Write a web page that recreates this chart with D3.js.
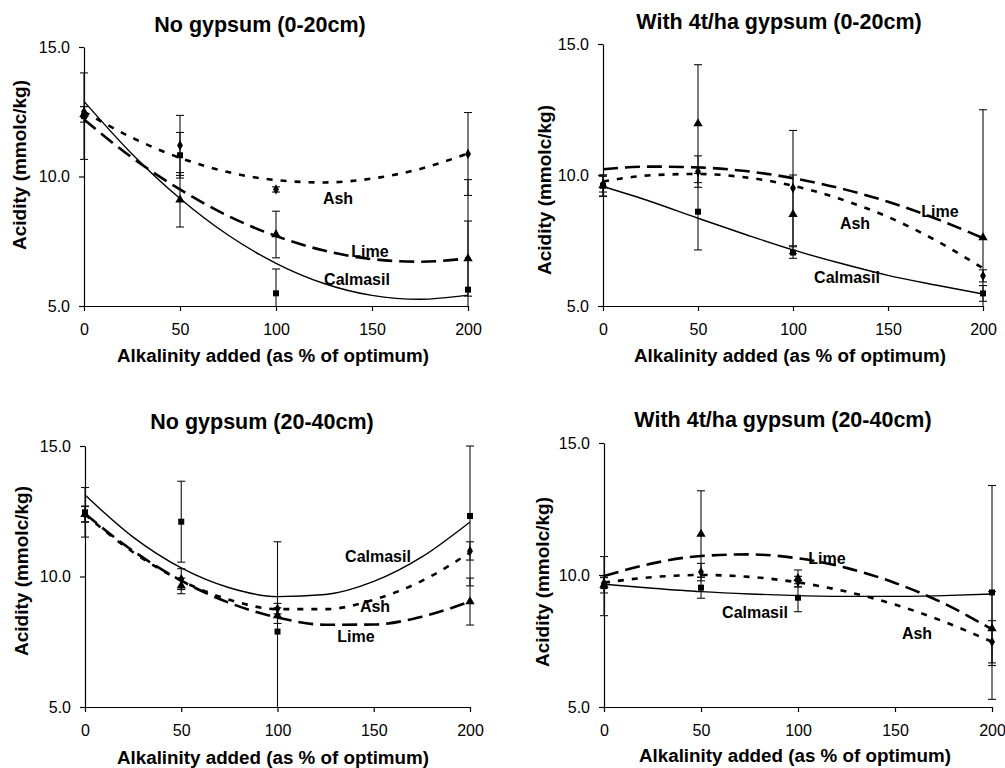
<!DOCTYPE html>
<html>
<head>
<meta charset="utf-8">
<script src="https://cdn.jsdelivr.net/npm/d3@7"></script>
<style>
  html, body { margin: 0; padding: 0; background: #fff; }
  svg { display: block; font-family: "Liberation Sans", Arial, sans-serif; }
</style>
</head>
<body>
<svg id="chart" width="1005" height="768"></svg>
<script>
// ---------- data ----------
const xLevels = [0, 50, 100, 200];
const fitLevels = [0, 25, 50, 75, 100, 125, 150, 175, 200];
const xTicks = [0, 50, 100, 150, 200];
const yTicks = [5, 10, 15];
const seriesNames = ["Ash", "Lime", "Calmasil"];
const panelTitles = ["No gypsum (0-20cm)", "With 4t/ha gypsum (0-20cm)", "No gypsum (20-40cm)", "With 4t/ha gypsum (20-40cm)"];
const xTitle = "Alkalinity added (as % of optimum)";
const yTitle = "Acidity (mmolc/kg)";

// Panel 1: No gypsum (0-20cm)
const p1AshMean = [12.5, 11.2, 9.5, 10.87];
const p1AshErr  = [0.2, 1.16, 0.1, 1.6];
const p1LimeMean = [12.4, 9.1, 7.76, 6.83];
const p1LimeErr  = [0.3, 1.05, 0.9, 1.45];
const p1CalmMean = [12.33, 10.82, 5.49, 5.63];
const p1CalmErr  = [1.67, 0.88, 0.94, 4.25];
const p1AshFit  = [12.5, 11.5, 10.72, 10.17, 9.86, 9.77, 9.92, 10.29, 10.89];
const p1LimeFit = [12.2, 10.73, 9.5, 8.48, 7.7, 7.14, 6.81, 6.71, 6.84];
const p1CalmFit = [12.9, 10.87, 9.15, 7.74, 6.65, 5.87, 5.41, 5.26, 5.42];

// Panel 2: With 4t/ha gypsum (0-20cm)
const p2AshMean = [9.65, 10.13, 9.5, 6.15];
const p2AshErr  = [0.3, 0.6, 2.2, 0.23];
const p2LimeMean = [9.6, 11.96, 8.5, 7.61];
const p2LimeErr  = [0.4, 2.25, 1.5, 4.88];
const p2CalmMean = [9.59, 8.6, 7.04, 5.48];
const p2CalmErr  = [0.41, 1.46, 0.22, 0.3];
const p2AshFit  = [9.75, 9.99, 10.04, 9.91, 9.59, 9.08, 8.4, 7.51, 6.44];
const p2LimeFit = [10.22, 10.32, 10.29, 10.15, 9.88, 9.49, 8.98, 8.34, 7.59];
const p2CalmFit = [9.56, 8.99, 8.35, 7.73, 7.14, 6.63, 6.17, 5.8, 5.46];

// Panel 3: No gypsum (20-40cm)
const p3AshMean = [12.4, 9.9, 8.77, 10.98];
const p3AshErr  = [0.3, 0.4, 0.2, 0.35];
const p3LimeMean = [12.38, 9.64, 8.5, 9.04];
const p3LimeErr  = [0.3, 0.3, 0.3, 0.9];
const p3CalmMean = [12.46, 12.1, 7.89, 12.32];
const p3CalmErr  = [0.95, 1.55, 3.44, 2.68];
const p3AshFit  = [12.38, 10.93, 9.84, 9.11, 8.75, 8.75, 9.11, 9.83, 10.92];
const p3LimeFit = [12.4, 10.98, 9.84, 8.99, 8.43, 8.15, 8.16, 8.46, 9.04];
const p3CalmFit = [13.12, 11.51, 10.33, 9.57, 9.23, 9.31, 9.81, 10.75, 12.09];

// Panel 4: With 4t/ha gypsum (20-40cm)
const p4AshMean = [9.7, 10.11, 9.75, 7.47];
const p4AshErr  = [0.2, 0.33, 0.2, 0.8];
const p4LimeMean = [9.62, 11.55, 9.87, 7.97];
const p4LimeErr  = [0.3, 1.64, 0.32, 1.4];
const p4CalmMean = [9.58, 9.52, 9.14, 9.34];
const p4CalmErr  = [1.12, 0.4, 0.53, 4.05];
const p4AshFit  = [9.71, 9.92, 10.0, 9.93, 9.72, 9.37, 8.88, 8.24, 7.47];
const p4LimeFit = [9.96, 10.44, 10.72, 10.78, 10.63, 10.27, 9.7, 8.93, 7.94];
const p4CalmFit = [9.65, 9.5, 9.37, 9.28, 9.22, 9.19, 9.19, 9.22, 9.28];

// ---------- layout / style ----------
const panels = [
  { title: panelTitles[0], L: 84, R: 468, T: 47, B: 306, titleX: 260, titleY: 32, xtX: 273, xtY: 362, ytX: 26, ytY: 165,
    data: [[p1AshMean, p1AshErr, p1AshFit], [p1LimeMean, p1LimeErr, p1LimeFit], [p1CalmMean, p1CalmErr, p1CalmFit]],
    labels: [[338, 198], [370, 251], [357, 279]] },
  { title: panelTitles[1], L: 603, R: 983, T: 44, B: 306, titleX: 779, titleY: 29, xtX: 790, xtY: 362, ytX: 551, ytY: 190,
    data: [[p2AshMean, p2AshErr, p2AshFit], [p2LimeMean, p2LimeErr, p2LimeFit], [p2CalmMean, p2CalmErr, p2CalmFit]],
    labels: [[855, 223], [940, 211], [847, 277]] },
  { title: panelTitles[2], L: 85, R: 470, T: 446, B: 707, titleX: 262, titleY: 429, xtX: 273, xtY: 764, ytX: 28, ytY: 571,
    data: [[p3AshMean, p3AshErr, p3AshFit], [p3LimeMean, p3LimeErr, p3LimeFit], [p3CalmMean, p3CalmErr, p3CalmFit]],
    labels: [[375, 606], [356, 636], [378, 556]] },
  { title: panelTitles[3], L: 604, R: 992, T: 443, B: 707, titleX: 783, titleY: 427, xtX: 795, xtY: 762, ytX: 549, ytY: 582,
    data: [[p4AshMean, p4AshErr, p4AshFit], [p4LimeMean, p4LimeErr, p4LimeFit], [p4CalmMean, p4CalmErr, p4CalmFit]],
    labels: [[917, 633], [827, 558], [755, 612]] }
];

const lineStyles = [
  { dash: "6,8", width: 2.6 },   // Ash
  { dash: "15,7", width: 2.6 },  // Lime
  { dash: null, width: 1.4 }     // Calmasil
];
const markerSymbols = [d3.symbolDiamond, d3.symbolTriangle, d3.symbolSquare];
const markerSizes = [30, 38, 36];

const svg = d3.select("#chart");

panels.forEach(p => {
  const x = d3.scaleLinear().domain([0, 200]).range([p.L, p.R]);
  const y = d3.scaleLinear().domain([5, 15]).range([p.B, p.T]);
  const g = svg.append("g");

  // axes
  const yAxis = d3.axisLeft(y).tickValues(yTicks).tickFormat(d3.format(".1f")).tickSizeInner(5).tickSizeOuter(0).tickPadding(9);
  const xAxis = d3.axisBottom(x).tickValues(xTicks).tickFormat(d3.format("d")).tickSizeInner(5).tickSizeOuter(0).tickPadding(13);
  const ya = g.append("g").attr("transform", `translate(${p.L},0)`).call(yAxis);
  const xa = g.append("g").attr("transform", `translate(0,${p.B})`).call(xAxis);
  [ya, xa].forEach(a => {
    a.select(".domain").attr("stroke", "#000").attr("stroke-width", 1.2);
    a.selectAll(".tick line").attr("stroke", "#000").attr("stroke-width", 1.2);
    a.selectAll(".tick text").attr("fill", "#000").style("font-size", "16px").style("font-family", '"Liberation Sans", Arial, sans-serif');
  });

  // titles
  g.append("text").attr("x", p.titleX).attr("y", p.titleY).attr("text-anchor", "middle")
    .style("font-size", "21.5px").style("font-weight", "bold").text(p.title);
  g.append("text").attr("x", p.xtX).attr("y", p.xtY).attr("text-anchor", "middle")
    .style("font-size", "18.8px").style("font-weight", "bold").text(xTitle);
  g.append("text").attr("transform", `translate(${p.ytX},${p.ytY}) rotate(-90)`).attr("text-anchor", "middle")
    .style("font-size", "19px").style("font-weight", "bold").text(yTitle);

  // fitted curves
  const line = d3.line().x((d, i) => x(fitLevels[i])).y(d => y(d)).curve(d3.curveMonotoneX);
  p.data.forEach((s, si) => {
    const path = g.append("path").datum(s[2]).attr("d", line)
      .attr("fill", "none").attr("stroke", "#000").attr("stroke-width", lineStyles[si].width);
    if (lineStyles[si].dash) path.attr("stroke-dasharray", lineStyles[si].dash);
  });

  // error bars
  const capW = 4;
  p.data.forEach((s, si) => {
    s[0].forEach((m, i) => {
      const hi = m + s[1][i], lo = m - s[1][i];
      const cx = x(xLevels[i]);
      const yHi = y(Math.min(hi, 15)), yLo = y(Math.max(lo, 5));
      g.append("line").attr("x1", cx).attr("x2", cx).attr("y1", yHi).attr("y2", yLo)
        .attr("stroke", "#111").attr("stroke-width", 1.1);
      if (hi <= 15) g.append("line").attr("x1", cx - capW).attr("x2", cx + capW).attr("y1", y(hi)).attr("y2", y(hi)).attr("stroke", "#111").attr("stroke-width", 1.1);
      if (lo >= 5) g.append("line").attr("x1", cx - capW).attr("x2", cx + capW).attr("y1", y(lo)).attr("y2", y(lo)).attr("stroke", "#111").attr("stroke-width", 1.1);
    });
  });

  // markers
  p.data.forEach((s, si) => {
    const sym = d3.symbol().type(markerSymbols[si]).size(markerSizes[si]);
    s[0].forEach((m, i) => {
      g.append("path").attr("d", sym()).attr("transform", `translate(${x(xLevels[i])},${y(m)})`).attr("fill", "#000");
    });
  });

  // series labels
  p.labels.forEach((pos, si) => {
    g.append("text").attr("x", pos[0]).attr("y", pos[1]).attr("text-anchor", "middle").attr("dominant-baseline", "central")
      .style("font-size", "16px").style("font-weight", "bold").text(seriesNames[si]);
  });
});
</script>
</body>
</html>
